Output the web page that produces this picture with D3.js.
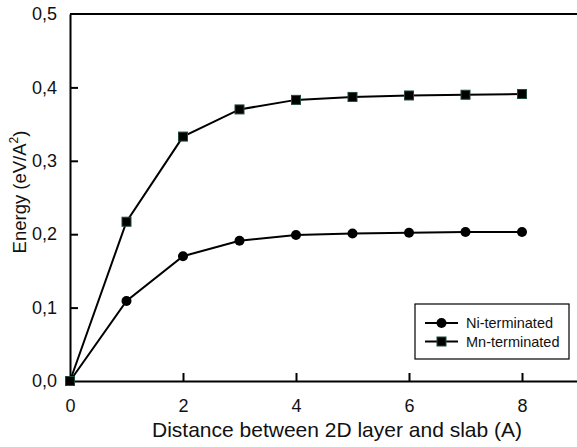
<!DOCTYPE html>
<html>
<head>
<meta charset="utf-8">
<script src="https://cdn.jsdelivr.net/npm/d3@7"></script>
<style>
  body { margin: 0; background: #fff; }
  svg { font-family: Arial, 'Liberation Sans', sans-serif; }
</style>
</head>
<body>
<script>
var distances = [0, 1, 2, 3, 4, 5, 6, 7, 8]
var niTerminated = [0, 0.109, 0.170, 0.191, 0.199, 0.201, 0.202, 0.203, 0.203]
var mnTerminated = [0, 0.217, 0.333, 0.370, 0.383, 0.387, 0.389, 0.390, 0.391]
var xTicks = [0, 2, 4, 6, 8]
var yTicks = [0, 0.1, 0.2, 0.3, 0.4, 0.5]
var seriesNames = ['Ni-terminated', 'Mn-terminated']

var width = 577, height = 447
var margin = {top: 14, left: 70, bottom: 66}

var x = d3.scaleLinear().domain([0, 9]).range([margin.left, 578.5])
var y = d3.scaleLinear().domain([0, 0.5]).range([height - margin.bottom, margin.top])

var svg = d3.select('body').append('svg')
  .attr('width', width)
  .attr('height', height)

// axes with inward ticks
var xAxis = d3.axisBottom(x).tickValues(xTicks).tickSizeInner(-8).tickSizeOuter(0)
  .tickPadding(18).tickFormat(d3.format('d'))
var yAxis = d3.axisLeft(y).tickValues(yTicks).tickSizeInner(-8).tickSizeOuter(0)
  .tickPadding(13).tickFormat(function (d) { return d3.format('.1f')(d).replace('.', ',') })

var gx = svg.append('g')
  .attr('transform', 'translate(0,' + y(0) + ')')
  .call(xAxis)
var gy = svg.append('g')
  .attr('transform', 'translate(' + x(0) + ',0)')
  .call(yAxis)

;[gx, gy].forEach(function (g) {
  g.select('.domain').attr('stroke', '#000').attr('stroke-width', 2)
  g.selectAll('.tick line').attr('stroke', '#000').attr('stroke-width', 2)
  g.selectAll('.tick text').attr('fill', '#111').style('font-size', '18px')
})
gx.selectAll('.tick').filter(function (d) { return d === 0 }).select('line').remove()
gy.selectAll('.tick').filter(function (d) { return d === 0 || d === 0.5 }).select('line').remove()

// top frame line
svg.append('line')
  .attr('x1', x(0)).attr('x2', x(9))
  .attr('y1', y(0.5)).attr('y2', y(0.5))
  .attr('stroke', '#000').attr('stroke-width', 2)

var line = d3.line()
  .x(function (d, i) { return x(distances[i]) })
  .y(function (d) { return y(d) })

svg.append('path').datum(niTerminated)
  .attr('d', line).attr('fill', 'none').attr('stroke', '#000').attr('stroke-width', 2)
svg.append('path').datum(mnTerminated)
  .attr('d', line).attr('fill', 'none').attr('stroke', '#000').attr('stroke-width', 2)

svg.append('g').selectAll('circle').data(niTerminated).enter().append('circle')
  .attr('cx', function (d, i) { return x(distances[i]) })
  .attr('cy', function (d) { return y(d) })
  .attr('r', 5)
  .attr('fill', '#000')

svg.append('g').selectAll('rect').data(mnTerminated).enter().append('rect')
  .attr('x', function (d, i) { return x(distances[i]) - 4.5 })
  .attr('y', function (d) { return y(d) - 4.5 })
  .attr('width', 9).attr('height', 9)
  .attr('fill', '#000')
  .attr('stroke', '#1f4a3c').attr('stroke-width', 1)

// axis titles
svg.append('text')
  .attr('x', 337)
  .attr('y', 437)
  .attr('text-anchor', 'middle')
  .style('font-size', '21px')
  .attr('fill', '#111')
  .text('Distance between 2D layer and slab (A)')

var yt = svg.append('text')
  .attr('transform', 'translate(26,192) rotate(-90)')
  .attr('text-anchor', 'middle')
  .style('font-size', '18.5px')
  .attr('fill', '#111')
yt.append('tspan').text('Energy (eV/A')
yt.append('tspan').attr('dy', -8).style('font-size', '12px').text('2')
yt.append('tspan').attr('dy', 8).text(')')

// legend
var legend = svg.append('g').attr('transform', 'translate(415,304)')
legend.append('rect')
  .attr('width', 154).attr('height', 55)
  .attr('fill', '#fff').attr('stroke', '#000').attr('stroke-width', 1.2)

seriesNames.forEach(function (name, i) {
  var row = legend.append('g').attr('transform', 'translate(0,' + (19 + i * 18.5) + ')')
  row.append('line').attr('x1', 10).attr('x2', 43)
    .attr('stroke', '#000').attr('stroke-width', 2)
  if (i === 0) {
    row.append('circle').attr('cx', 26.5).attr('r', 5).attr('fill', '#000')
  } else {
    row.append('rect').attr('x', 22).attr('y', -4.5).attr('width', 9).attr('height', 9)
      .attr('fill', '#000').attr('stroke', '#1f4a3c').attr('stroke-width', 1)
  }
  row.append('text').attr('x', 51).attr('dy', '0.35em')
    .style('font-size', '14.5px').attr('fill', '#111').text(name)
})
</script>
</body>
</html>
